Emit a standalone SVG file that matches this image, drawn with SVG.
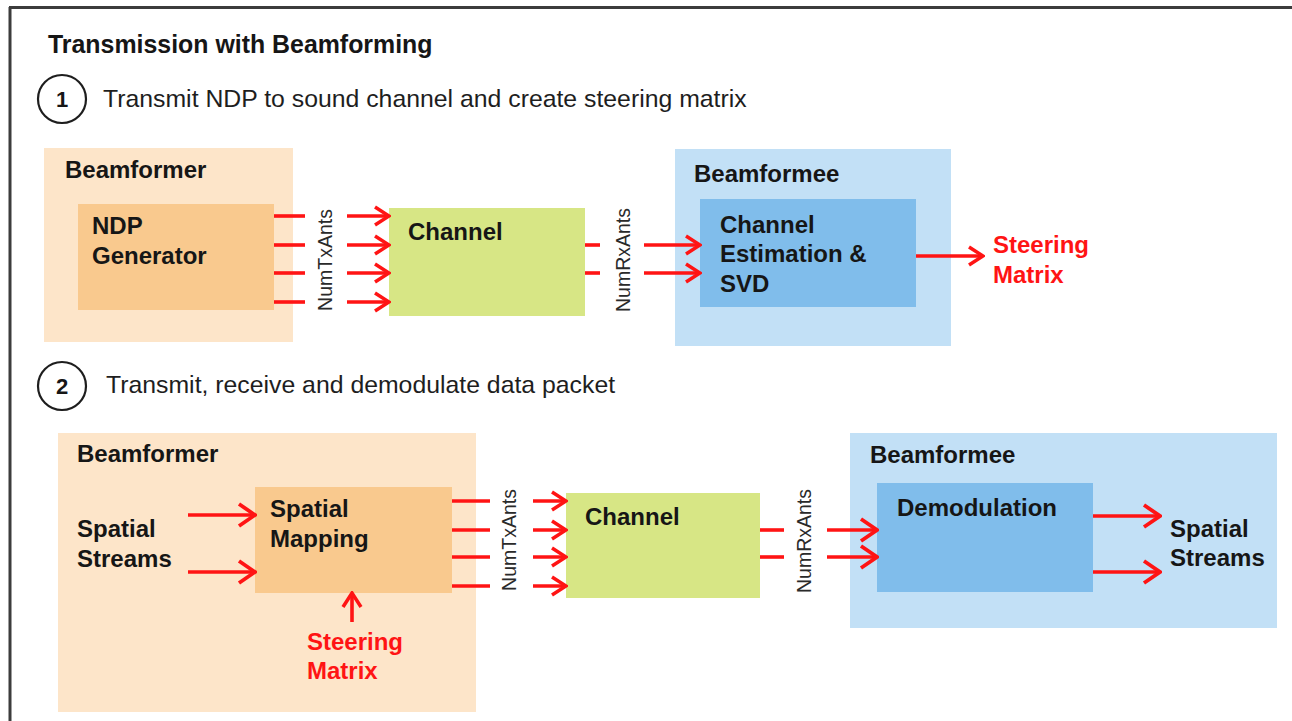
<svg xmlns="http://www.w3.org/2000/svg" width="1292" height="721" viewBox="0 0 1292 721">
<defs>
<marker id="ah" markerUnits="userSpaceOnUse" viewBox="0 0 18 22" refX="16" refY="11" markerWidth="18" markerHeight="22" orient="auto">
<path d="M2,2 L16,11 L2,20" fill="none" stroke="#ff1414" stroke-width="3.5"/>
</marker>
<marker id="ah2" markerUnits="userSpaceOnUse" viewBox="0 0 20 26" refX="18" refY="13" markerWidth="20" markerHeight="26" orient="auto">
<path d="M2,2 L18,13 L2,24" fill="none" stroke="#ff1414" stroke-width="3.8"/>
</marker>
<style>
text{font-family:"Liberation Sans",Arial,sans-serif}
.b{font-weight:bold;font-size:24px;fill:#161616}
.red{font-weight:bold;font-size:24px;fill:#ff1414}
.step{font-size:24.8px;fill:#1e1e1e}
.lab{font-size:19.5px;fill:#2a2a2a}
.peach{fill:#fde5c9}
.orange{fill:#f9c98e}
.green{fill:#d7e685}
.lblue{fill:#c2e0f6}
.blue{fill:#80bdeb}
.c line{stroke:#ff1414;stroke-width:3.6}
.c .a{marker-end:url(#ah)}
.c .a2{marker-end:url(#ah2)}
.circ{fill:none;stroke:#1e1e1e;stroke-width:2.2}
</style>
</defs>
<rect width="1292" height="721" fill="#ffffff"/>
<path d="M9,7.5 H1292 M10,7 V721" stroke="#3c3c3c" stroke-width="3" fill="none"/>

<text x="48" y="53" style="font-weight:bold;font-size:24.9px;fill:#161616">Transmission with Beamforming</text>

<g id="step1">
<circle class="circ" cx="62" cy="99" r="24"/>
<text x="62" y="107" text-anchor="middle" style="font-weight:bold;font-size:22px;fill:#161616">1</text>
<text class="step" x="103" y="107">Transmit NDP to sound channel and create steering matrix</text>
</g>

<g id="beamformer1">
<rect class="peach" x="44" y="148" width="249" height="194"/>
<text class="b" x="65" y="178">Beamformer</text>
</g>
<g id="ndp-generator">
<rect class="orange" x="78" y="204" width="196" height="106"/>
<text class="b" x="92" y="234">NDP</text>
<text class="b" x="92" y="264">Generator</text>
</g>
<g id="channel1">
<rect class="green" x="389" y="208" width="196" height="108"/>
<text class="b" x="408" y="240">Channel</text>
</g>
<g id="beamformee1">
<rect class="lblue" x="675" y="149" width="276" height="197"/>
<text class="b" x="694" y="182">Beamformee</text>
</g>
<g id="channel-estimation">
<rect class="blue" x="700" y="199" width="216" height="108"/>
<text class="b" x="720" y="233">Channel</text>
<text class="b" x="720" y="262">Estimation &amp;</text>
<text class="b" x="720" y="292">SVD</text>
</g>
<g id="steering-matrix1">
<text class="red" x="993" y="253">Steering</text>
<text class="red" x="993" y="283">Matrix</text>
</g>

<g id="step2">
<circle class="circ" cx="62" cy="386" r="24"/>
<text x="62" y="394" text-anchor="middle" style="font-weight:bold;font-size:22px;fill:#161616">2</text>
<text class="step" x="106" y="393">Transmit, receive and demodulate data packet</text>
</g>

<g id="beamformer2">
<rect class="peach" x="58" y="433" width="418" height="279"/>
<text class="b" x="77" y="462">Beamformer</text>
</g>
<g id="spatial-streams-in">
<text class="b" x="77" y="537">Spatial</text>
<text class="b" x="77" y="567">Streams</text>
</g>
<g id="spatial-mapping">
<rect class="orange" x="255" y="487" width="197" height="106"/>
<text class="b" x="270" y="517">Spatial</text>
<text class="b" x="270" y="547">Mapping</text>
</g>
<g id="steering-matrix2">
<text class="red" x="307" y="650">Steering</text>
<text class="red" x="307" y="679">Matrix</text>
</g>
<g id="channel2">
<rect class="green" x="566" y="493" width="194" height="105"/>
<text class="b" x="585" y="525">Channel</text>
</g>
<g id="beamformee2">
<rect class="lblue" x="850" y="433" width="427" height="195"/>
<text class="b" x="870" y="463">Beamformee</text>
</g>
<g id="demodulation">
<rect class="blue" x="877" y="483" width="216" height="109"/>
<text class="b" x="897" y="516">Demodulation</text>
</g>
<g id="spatial-streams-out">
<text class="b" x="1170" y="537">Spatial</text>
<text class="b" x="1170" y="566">Streams</text>
</g>

<g id="connectors" class="c">
<line x1="274" y1="216" x2="305" y2="216"/><line class="a" x1="347" y1="216" x2="389" y2="216"/>
<line x1="274" y1="245" x2="305" y2="245"/><line class="a" x1="347" y1="245" x2="389" y2="245"/>
<line x1="274" y1="273" x2="305" y2="273"/><line class="a" x1="347" y1="273" x2="389" y2="273"/>
<line x1="274" y1="302" x2="305" y2="302"/><line class="a" x1="347" y1="302" x2="389" y2="302"/>
<line x1="585" y1="245" x2="600" y2="245"/><line class="a" x1="644" y1="245" x2="700" y2="245"/>
<line x1="585" y1="273" x2="600" y2="273"/><line class="a" x1="644" y1="273" x2="700" y2="273"/>
<line class="a" x1="916" y1="256" x2="983" y2="256"/>
<line class="a2" x1="188" y1="515" x2="255" y2="515"/>
<line class="a2" x1="188" y1="572" x2="255" y2="572"/>
<line class="a" x1="352" y1="622" x2="352" y2="593"/>
<line x1="452" y1="501" x2="490" y2="501"/><line class="a" x1="533" y1="501" x2="566" y2="501"/>
<line x1="452" y1="530" x2="490" y2="530"/><line class="a" x1="533" y1="530" x2="566" y2="530"/>
<line x1="452" y1="557" x2="490" y2="557"/><line class="a" x1="533" y1="557" x2="566" y2="557"/>
<line x1="452" y1="586" x2="490" y2="586"/><line class="a" x1="533" y1="586" x2="566" y2="586"/>
<line x1="760" y1="530" x2="784" y2="530"/><line class="a2" x1="827" y1="530" x2="877" y2="530"/>
<line x1="760" y1="557" x2="784" y2="557"/><line class="a2" x1="827" y1="557" x2="877" y2="557"/>
<line class="a2" x1="1093" y1="516" x2="1160" y2="516"/>
<line class="a2" x1="1093" y1="572" x2="1160" y2="572"/>
<text class="lab" transform="translate(332,260) rotate(-90)" text-anchor="middle">NumTxAnts</text>
<text class="lab" transform="translate(630,260) rotate(-90)" text-anchor="middle">NumRxAnts</text>
<text class="lab" transform="translate(516,540) rotate(-90)" text-anchor="middle">NumTxAnts</text>
<text class="lab" transform="translate(811,541) rotate(-90)" text-anchor="middle">NumRxAnts</text>
</g>
</svg>
